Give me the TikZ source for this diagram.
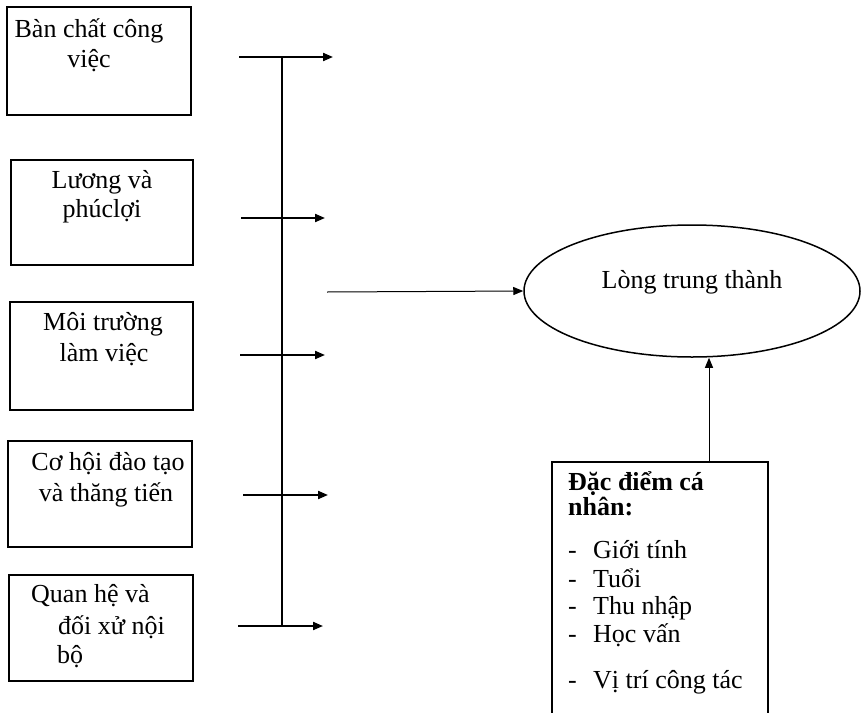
\documentclass[tikz,border=0pt]{standalone}
\usepackage{fontspec}
\setmainfont{Liberation Serif}
\usetikzlibrary{arrows.meta,shapes.geometric}
\begin{document}
\begin{tikzpicture}[x=1pt,y=-1pt,
  box/.style={draw,line width=1.5pt,anchor=north west,inner sep=0pt,outer sep=0pt},
  txt/.style={font=\fontsize{26}{30}\selectfont,inner sep=0pt,anchor=base},
  txtl/.style={txt,anchor=base west},
  bar/.style={line width=1.3pt},
  feed/.style={line width=2pt,-{Triangle[length=10pt,width=8pt]}},
  thin/.style={line width=1pt,-{Triangle[length=10pt,width=8pt]}}]
\useasboundingbox (0,0) rectangle (861,712);
\clip (0,0) rectangle (861,712);
% left boxes
\node[box,minimum width=184pt,minimum height=108pt] (b1) at (7,7) {};
\node[box,minimum width=182pt,minimum height=105pt] (b2) at (11,160) {};
\node[box,minimum width=183pt,minimum height=108pt] (b3) at (10,302) {};
\node[box,minimum width=184pt,minimum height=106pt] (b4) at (8,441) {};
\node[box,minimum width=184pt,minimum height=106pt] (b5) at (9,575) {};
% texts
\node[txt] (t1a) at (89,37) {Bàn chất công};
\node[txt] (t1b) at (89,67) {việc};
\node[txt] (t2a) at (102,188) {Lương và};
\node[txt] (t2b) at (102,217) {phúclợi};
\node[txt] (t3a) at (103,330) {Môi trường};
\node[txt] (t3b) at (104,361) {làm việc};
\node[txt] (t4a) at (108,470) {Cơ hội đào tạo};
\node[txt] (t4b) at (106,501) {và thăng tiến};
\node[txtl] (t5a) at (31,602) {Quan hệ và};
\node[txtl] (t5b) at (58,634) {đối xử nội};
\node[txtl] (t5c) at (57,663) {bộ};
% bar and arrows
\coordinate (s1) at (239,57);  \coordinate (e1) at (333,57);
\coordinate (s2) at (241,218); \coordinate (e2) at (325,218);
\coordinate (s3) at (240,355); \coordinate (e3) at (325,355);
\coordinate (s4) at (243,495); \coordinate (e4) at (328,495);
\coordinate (s5) at (238,626); \coordinate (e5) at (323,626);
\coordinate (btop) at (282,57); \coordinate (bbot) at (282,626);
\draw[bar] (btop) -- (bbot);
\foreach \i in {1,...,5} {\draw[feed] (s\i) -- (e\i);}
% ellipse
\node[draw,ellipse,line width=1.5pt,minimum width=336pt,minimum height=132pt,inner sep=0pt] (el) at (692,291) {};
\node[txt] (elt) at (692,288) {Lòng trung thành};
\coordinate (mid) at (327,292);
\draw[thin] (mid) -- (el.west);
% personal characteristics box
\node[box,minimum width=216pt,minimum height=280pt] (b6) at (552,462) {};
\coordinate (b6top) at (709,462);
\draw[thin] (b6top) -- (b6top |- el.south);
\node[txtl,font=\fontsize{26}{30}\selectfont\bfseries] (h1) at (568,490) {Đặc điểm cá};
\node[txtl,font=\fontsize{26}{30}\selectfont\bfseries] (h2) at (568,515) {nhân:};
\foreach \y/\t [count=\k] in {558/Giới tính,587/Tuổi,614/Thu nhập,642/Học vấn,688/Vị trí công tác} {
  \node[txtl] (d\k) at (568,\y) {-};
  \node[txtl] (l\k) at (593,\y) {\t};
}
\end{tikzpicture}
\end{document}
